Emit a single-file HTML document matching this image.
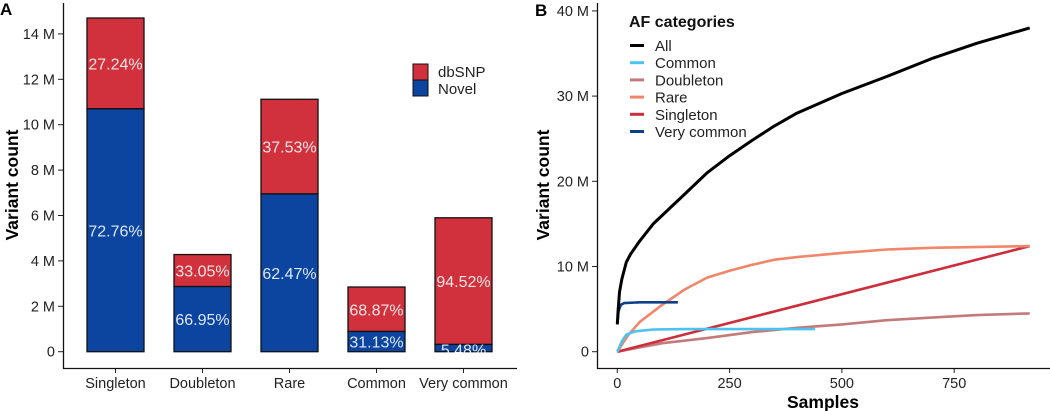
<!DOCTYPE html>
<html><head><meta charset="utf-8"><style>
html,body{margin:0;padding:0;background:#fff;}
svg{display:block;font-family:"Liberation Sans",Arial,sans-serif;}
</style></head><body>
<svg id="fig" width="1050" height="411" viewBox="0 0 1050 411">
<g id="pa"></g>
<g id="pb"></g>
</svg>
<script>
// ---- Panel A data ----
const catsA = ["Singleton","Doubleton","Rare","Common","Very common"];
const novelA = [10.7, 2.87, 6.95, 0.89, 0.32];
const dbsnpA = [4.0, 1.41, 4.17, 1.96, 5.58];
const novelPct = ["72.76%","66.95%","62.47%","31.13%","5.48%"];
const dbsnpPct = ["27.24%","33.05%","37.53%","68.87%","94.52%"];
const yTicksA = [0,2,4,6,8,10,12,14];

// ---- Panel B data ----
const seriesNames = ["All","Common","Doubleton","Rare","Singleton","Very common"];
const seriesColors = ["#000000","#4cc3ee","#c47a7a","#f0866a","#cc2e3b","#0d3f8a"];
const allX = [0,2,5,10,20,30,50,80,100,150,200,250,300,350,400,500,600,700,800,918];
const allY = [3.2,5,7,8.5,10.5,11.5,13,15,16,18.5,21,23,24.8,26.5,28,30.3,32.3,34.4,36.2,38];
const commonX = [0,10,20,40,80,150,300,440];
const commonY = [0,1.2,2,2.4,2.6,2.65,2.65,2.65];
const doubX = [0,100,200,300,400,500,600,700,800,918];
const doubY = [0,1,1.6,2.3,2.8,3.2,3.7,4,4.3,4.5];
const rareX = [0,25,50,100,150,200,250,300,350,400,500,600,700,918];
const rareY = [0,2,3.5,5.5,7.3,8.7,9.5,10.2,10.8,11.1,11.6,12,12.2,12.4];
const singX = [0,918];
const singY = [0,12.4];
const vcX = [0,3,8,15,50,135];
const vcY = [3.2,4.8,5.5,5.7,5.8,5.8];
const xTicksB = [0,250,500,750];
const yTicksB = [0,10,20,30,40];

const NS="http://www.w3.org/2000/svg";
function mk(parent,tag,attrs,text){const e=document.createElementNS(NS,tag);for(const k in attrs)e.setAttribute(k,attrs[k]);if(text!==undefined)e.textContent=text;parent.appendChild(e);return e;}

// Panel A
const pa=document.getElementById('pa');
const yA=v=>351.7-v*22.7;
const xA=i=>115.5+i*87;
const bw=57;
let t=mk(pa,'text',{x:0,y:15,'font-size':17,'font-weight':'bold'},'A');


yTicksA.forEach(v=>{
  let l=mk(pa,'line',{x1:58,x2:63,y1:yA(v),y2:yA(v),stroke:'#222','stroke-width':1});
  
  
  let tx=mk(pa,'text',{x:55,y:yA(v)+5,'text-anchor':'end','font-size':14.5,fill:'#222'},v===0?'0':v+' M');
  
  
});
catsA.forEach((c,i)=>{
  const x0=xA(i)-bw/2;
  const tot=novelA[i]+dbsnpA[i];
  let r1=mk(pa,'rect',{x:x0,y:yA(tot),width:bw,height:yA(novelA[i])-yA(tot),fill:'#d0313c',stroke:'#111','stroke-width':1.3});
  
  
  let r2=mk(pa,'rect',{x:x0,y:yA(novelA[i]),width:bw,height:yA(0)-yA(novelA[i]),fill:'#0b45a0',stroke:'#111','stroke-width':1.3});
  
  
  let l1=mk(pa,'text',{x:xA(i),y:(yA(tot)+yA(novelA[i]))/2+6,'text-anchor':'middle','font-size':16,fill:'#f4e6e6'},dbsnpPct[i]);
  
  
  let ny=(yA(novelA[i])+yA(0))/2+6;
  if(i===4) ny=yA(0)+4;
  let l2=mk(pa,'text',{x:xA(i),y:ny,'text-anchor':'middle','font-size':16,fill:'#dfe8f6'},novelPct[i]);
  
  
  let tk=mk(pa,'line',{x1:xA(i),x2:xA(i),y1:368,y2:373,stroke:'#222'});
  
  
  let xl=mk(pa,'text',{x:xA(i),y:388,'text-anchor':'middle','font-size':14.5,fill:'#222'},c);
  
  
});
let mask=mk(pa,'rect',{x:64,y:352.5,width:455,height:15,fill:'#fff'});


let ax=mk(pa,'path',{d:'M63.5,3 V368.5 H517',fill:'none',stroke:'#111','stroke-width':1.3});


let yt=mk(pa,'text',{x:0,y:0,transform:'translate(18,185) rotate(-90)','text-anchor':'middle','font-size':17.5,'font-weight':'bold'},'Variant count');


let lg=mk(pa,'g',{});


let s1=mk(lg,'rect',{x:413,y:64,width:15,height:16,fill:'#d0313c',stroke:'#111','stroke-width':1});


let s2=mk(lg,'rect',{x:413,y:80,width:15,height:16,fill:'#0b45a0',stroke:'#111','stroke-width':1});


let lt1=mk(lg,'text',{x:438,y:77,'font-size':15,fill:'#222'},'dbSNP');


let lt2=mk(lg,'text',{x:438,y:94,'font-size':15,fill:'#222'},'Novel');



// Panel B
const pb=document.getElementById('pb');
const xB=v=>617.3+v*(112.3/250);
const yB=v=>351.7-v*8.52;
let tb=mk(pb,'text',{x:535,y:16,'font-size':17,'font-weight':'bold'},'B');


yTicksB.forEach(v=>{
  let l=mk(pb,'line',{x1:592,x2:597,y1:yB(v),y2:yB(v),stroke:'#222'});
  
  
  let tx=mk(pb,'text',{x:589,y:yB(v)+5,'text-anchor':'end','font-size':14.5,fill:'#222'},v===0?'0':v+' M');
  
  
});
xTicksB.forEach(v=>{
  let l=mk(pb,'line',{x1:xB(v),x2:xB(v),y1:368,y2:373,stroke:'#222'});
  
  
  let tx=mk(pb,'text',{x:xB(v),y:388,'text-anchor':'middle','font-size':14.5,fill:'#222'},String(v));
  
  
});
const seriesXs=[allX,commonX,doubX,rareX,singX,vcX];
const seriesYs=[allY,commonY,doubY,rareY,singY,vcY];
const drawOrder=[2,4,3,1,5,0];
drawOrder.forEach(k=>{
  const d=seriesXs[k].map((x,j)=>(j?'L':'M')+xB(x).toFixed(1)+','+yB(seriesYs[k][j]).toFixed(1)).join(' ');
  let p=mk(pb,'path',{d:d,fill:'none',stroke:seriesColors[k],'stroke-width':k===0?3:2.6,'stroke-linejoin':'round','stroke-linecap':'butt'});
  
  
});
let axb=mk(pb,'path',{d:'M597.5,3 V368.5 H1050',fill:'none',stroke:'#111','stroke-width':1.3});


let ytb=mk(pb,'text',{x:0,y:0,transform:'translate(549,185) rotate(-90)','text-anchor':'middle','font-size':17.5,'font-weight':'bold'},'Variant count');


let xtb=mk(pb,'text',{x:823,y:408,'text-anchor':'middle','font-size':17.5,'font-weight':'bold'},'Samples');


let lgb=mk(pb,'g',{});


let lgt=mk(lgb,'text',{x:629,y:27,'font-size':16,'font-weight':'bold',fill:'#111'},'AF categories');


seriesNames.forEach((n,i)=>{
  const y=45.5+i*17.2;
  let l=mk(lgb,'line',{x1:630,x2:644,y1:y,y2:y,stroke:seriesColors[i],'stroke-width':3});
  
  
  let tx=mk(lgb,'text',{x:655,y:y+5.5,'font-size':15,fill:'#222'},n);
  
  
});
</script>
</body></html>
